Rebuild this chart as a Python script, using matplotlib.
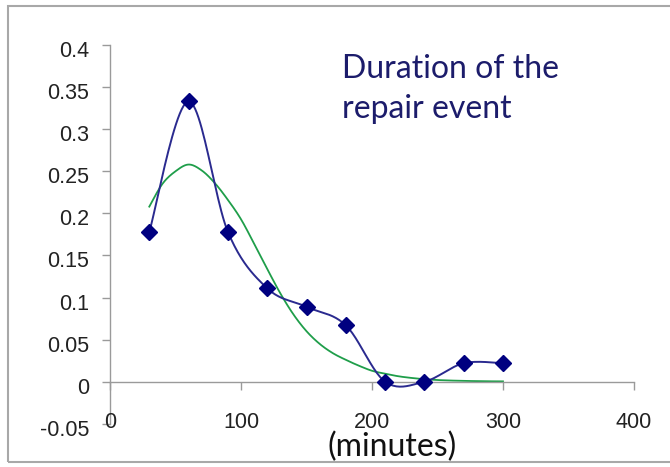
import numpy as np
import matplotlib
matplotlib.use("Agg")
import matplotlib.pyplot as plt
from matplotlib.patches import Rectangle
from matplotlib.transforms import ScaledTranslation, blended_transform_factory

# Observed relative frequency of repair durations (10 bins of 30 minutes)
minutes = [30, 60, 90, 120, 150, 180, 210, 240, 270, 300]
observed = [0.178, 0.333, 0.178, 0.111, 0.089, 0.067, 0.0, 0.0, 0.022, 0.022]

# Fitted distribution evaluated every 10 minutes
fit_minutes = [30, 40, 50, 60, 70, 80, 90, 100, 110, 120, 130, 140, 150, 160,
               170, 180, 190, 200, 210, 220, 230, 240, 250, 260, 270, 280, 290, 300]
fitted = [0.208, 0.235, 0.250, 0.258, 0.251, 0.236, 0.216, 0.193, 0.164, 0.134,
          0.105, 0.080, 0.060, 0.045, 0.034, 0.026, 0.019, 0.013, 0.0095, 0.0065,
          0.0045, 0.003, 0.002, 0.0014, 0.001, 0.0007, 0.0005, 0.0004]

x_ticks = [0, 100, 200, 300, 400]
x_tick_labels = ["0", "100", "200", "300", "400"]
y_ticks = [-0.05, 0.0, 0.05, 0.1, 0.15, 0.2, 0.25, 0.3, 0.35, 0.4]
y_tick_labels = ["-0.05", "0", "0.05", "0.1", "0.15", "0.2", "0.25", "0.3", "0.35", "0.4"]

title_lines = ["Duration of the", "repair event"]
x_label = "(minutes)"


def smooth(xs, ys, n=24):
    """Spreadsheet-style smoothed line: cubic Bezier segments with
    Catmull-Rom style control points (1/6 of neighbour chord)."""
    pts = np.column_stack([xs, ys]).astype(float)
    t = np.linspace(0, 1, n + 1)[1:][:, None]
    out = [pts[0]]
    for i in range(len(pts) - 1):
        p0 = pts[i - 1] if i > 0 else pts[i]
        p1, p2 = pts[i], pts[i + 1]
        p3 = pts[i + 2] if i + 2 < len(pts) else pts[i + 1]
        c1 = p1 + (p2 - p0) / 6.0
        c2 = p2 - (p3 - p1) / 6.0
        seg = ((1 - t) ** 3) * p1 + 3 * (1 - t) ** 2 * t * c1 \
            + 3 * (1 - t) * t ** 2 * c2 + t ** 3 * p2
        out.extend(seg)
    return np.array(out)


W, H = 670, 467
fig = plt.figure(figsize=(W / 100, H / 100), dpi=100)
fig.patch.set_facecolor("white")

# outer chart frame
fig.add_artist(Rectangle((8 / W, (H - 462) / H), 1.0, (462 - 6) / H,
                         transform=fig.transFigure, fill=False,
                         edgecolor="#a8a8a8", linewidth=1.5))

ax = fig.add_axes([110 / W, (H - 423.8) / H, 524 / W, (423.8 - 45) / H])
ax.set_xlim(0, 400)
ax.set_ylim(-0.05, 0.4)

axis_grey = "#9a9a9a"
for side in ("top", "right"):
    ax.spines[side].set_visible(False)
ax.spines["left"].set_color(axis_grey)
ax.spines["bottom"].set_color(axis_grey)
ax.spines["bottom"].set_position(("data", 0))
ax.spines["left"].set_linewidth(1.0)
ax.spines["bottom"].set_linewidth(1.0)

tick_font = dict(family=["Liberation Sans", "DejaVu Sans"], size=15.5, color="#222222")

ax.set_yticks(y_ticks)
ax.set_yticklabels(y_tick_labels, fontdict=tick_font)
ax.tick_params(axis="y", direction="out", length=6, width=1.0,
               color=axis_grey, pad=9)
shift = ScaledTranslation(0, -4 / 100, fig.dpi_scale_trans)
for lbl in ax.get_yticklabels():
    lbl.set_transform(lbl.get_transform() + shift)

ax.set_xticks(x_ticks)
ax.tick_params(axis="x", direction="out", length=6, width=1.0,
               color=axis_grey, labelbottom=False)
xtrans = blended_transform_factory(ax.transData, ax.transAxes)
for xv, lab in zip(x_ticks, x_tick_labels):
    ax.text(xv, 0.004, lab, transform=xtrans, ha="center", va="center",
            fontdict=tick_font)

# fitted curve
fc = smooth(fit_minutes, fitted)
ax.plot(fc[:, 0], fc[:, 1], color="#1f9e4a", linewidth=1.3, zorder=2)

# observed frequencies
oc = smooth(minutes, observed)
ax.plot(oc[:, 0], oc[:, 1], color="#2a2a8f", linewidth=1.4, zorder=3)
ax.plot(minutes, observed, linestyle="none", marker="D", markersize=8,
        color="#000080", zorder=4)

title_font = dict(family=["Lato", "DejaVu Sans"], size=23, color="#1c1c6b")
fig.text(342 / W, (H - 78) / H, title_lines[0], ha="left", va="baseline", **title_font)
fig.text(342 / W, (H - 118) / H, title_lines[1], ha="left", va="baseline", **title_font)

fig.text(392 / W, (H - 456.5) / H, x_label, ha="center", va="baseline",
         family=["Lato", "DejaVu Sans"], size=23, color="#111111")

fig.savefig("out.png", dpi=100)
